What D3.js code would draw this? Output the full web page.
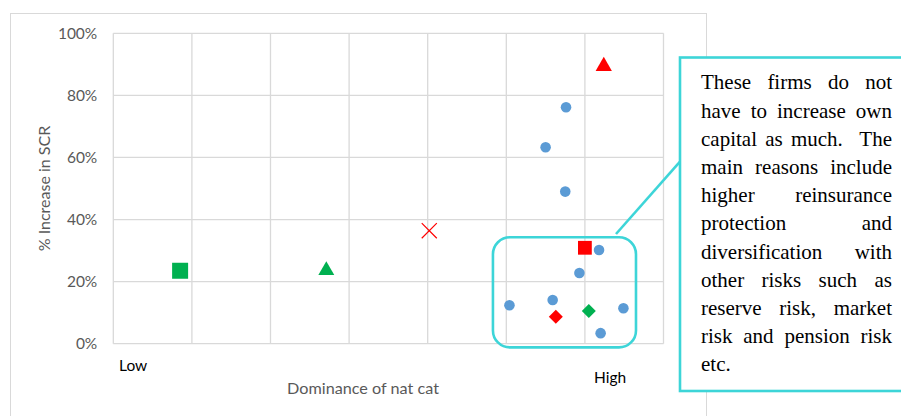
<!DOCTYPE html>
<html>
<head>
<meta charset="utf-8">
<script src="https://cdn.jsdelivr.net/npm/d3@7"></script>
<style>
  body { margin: 0; background: #fff; }
  svg { display: block; }
</style>
</head>
<body>
<div id="chart"></div>
<script>

// data (x = position on the "dominance" scale, y = % increase)
let blueX = [5.76, 5.50, 5.75, 6.18, 5.93, 5.04, 5.59, 6.49, 6.20];
let blueY = [0.762, 0.633, 0.490, 0.302, 0.228, 0.124, 0.141, 0.114, 0.034];

let redTriangle = {x: 6.24, y: 0.894};
let redSquare = {x: 6.00, y: 0.309};
let redDiamond = {x: 5.63, y: 0.087};
let redCross = {x: 4.02, y: 0.364};
let greenSquare = {x: 0.85, y: 0.235};
let greenTriangle = {x: 2.71, y: 0.236};
let greenDiamond = {x: 6.05, y: 0.105};

let yTicks = [0, 0.2, 0.4, 0.6, 0.8, 1.0];
let xGrid = [0, 1, 2, 3, 4, 5, 6, 7];

// highlighted region around the high nat cat firms (data units)
let highlight = {x0: 4.83, x1: 6.65, y0: -0.012, y1: 0.343};

let noteLines = [
	"These firms do not",
	"have to increase own",
	"capital as much.  The",
	"main reasons include",
	"higher reinsurance",
	"protection and",
	"diversification with",
	"other risks such as",
	"reserve risk, market",
	"risk and pension risk",
	"etc."
];

let width = 901, height = 416;
let margin = {top: 33.3, left: 113.3, right: 237.5, bottom: 72.3};
let teal = "#3dd5d8";
let axisFont = "Lato, sans-serif";

let svg = d3.select("#chart").append("svg")
	.attr("width", width)
	.attr("height", height);

svg.append("rect")
	.attr("width", width).attr("height", height)
	.attr("fill", "#fff");

// chart frame
svg.append("rect")
	.attr("x", 10.5).attr("y", 13.5)
	.attr("width", 696).attr("height", 420)
	.attr("fill", "none")
	.attr("stroke", "#d9d9d9");

let x = d3.scaleLinear().domain([0, 7]).range([margin.left, width - margin.right]);
let y = d3.scaleLinear().domain([0, 1]).range([height - margin.bottom, margin.top]);

// gridlines
svg.append("g").selectAll("line.v")
	.data(xGrid).enter().append("line")
	.attr("x1", d => x(d)).attr("x2", d => x(d))
	.attr("y1", y(1)).attr("y2", y(0))
	.attr("stroke", "#d9d9d9").attr("stroke-width", 1.3);

svg.append("g").selectAll("line.h")
	.data(yTicks).enter().append("line")
	.attr("x1", x(0)).attr("x2", x(7))
	.attr("y1", d => y(d)).attr("y2", d => y(d))
	.attr("stroke", "#d9d9d9").attr("stroke-width", 1.3);

// y axis labels
let yAxis = d3.axisLeft(y)
	.tickValues(yTicks)
	.tickFormat(d3.format(".0%"))
	.tickSize(0)
	.tickPadding(16);

let yg = svg.append("g")
	.attr("transform", "translate(" + margin.left + ",0)")
	.call(yAxis);
yg.select(".domain").remove();
yg.selectAll("text")
	.attr("font-family", axisFont)
	.attr("font-size", 15.5)
	.attr("fill", "#595959");

svg.append("text")
	.attr("transform", "translate(50," + (y(0.5)) + ") rotate(-90)")
	.attr("text-anchor", "middle")
	.attr("font-family", axisFont)
	.attr("font-size", 16)
	.attr("fill", "#595959")
	.text("% Increase in SCR");

svg.append("text")
	.attr("x", 119).attr("y", 371)
	.attr("font-family", axisFont)
	.attr("font-size", 15.5)
	.attr("fill", "#000")
	.text("Low");

svg.append("text")
	.attr("x", 594).attr("y", 383)
	.attr("font-family", axisFont)
	.attr("font-size", 15.5)
	.attr("fill", "#000")
	.text("High");

svg.append("text")
	.attr("x", 363).attr("y", 394)
	.attr("text-anchor", "middle")
	.attr("font-family", axisFont)
	.attr("font-size", 16.2)
	.attr("fill", "#595959")
	.text("Dominance of nat cat");

// markers
let plot = svg.append("g");

let blue = blueX.map((d, i) => ({x: d, y: blueY[i]}));
plot.selectAll("circle.blue")
	.data(blue).enter().append("circle")
	.attr("class", "blue")
	.attr("cx", d => x(d.x)).attr("cy", d => y(d.y))
	.attr("r", 5.3)
	.attr("fill", "#5b9bd5");

function symbol(p, type, size, color, angle) {
	plot.append("path")
		.attr("d", d3.symbol().type(type).size(size)())
		.attr("transform", "translate(" + x(p.x) + "," + y(p.y) + ") rotate(" + (angle || 0) + ")")
		.attr("fill", color);
}

symbol(greenSquare, d3.symbolSquare, 256, "#00b050");
symbol(redSquare, d3.symbolSquare, 190, "#ff0000");
symbol(greenTriangle, d3.symbolTriangle, 110, "#00b050");
symbol(redTriangle, d3.symbolTriangle, 115, "#ff0000");
symbol(redDiamond, d3.symbolSquare, 98, "#ff0000", 45);
symbol(greenDiamond, d3.symbolSquare, 98, "#00b050", 45);

plot.append("path")
	.attr("d", d3.symbol().type(d3.symbolX).size(150)())
	.attr("transform", "translate(" + x(redCross.x) + "," + y(redCross.y) + ")")
	.attr("fill", "none")
	.attr("stroke", "#ff0000")
	.attr("stroke-width", 1.2);

// highlight box
svg.append("rect")
	.attr("x", x(highlight.x0)).attr("y", y(highlight.y1))
	.attr("width", x(highlight.x1) - x(highlight.x0))
	.attr("height", y(highlight.y0) - y(highlight.y1))
	.attr("rx", 17).attr("ry", 17)
	.attr("fill", "none")
	.attr("stroke", teal)
	.attr("stroke-width", 2.6);

// callout
let box = {x: 680, y: 57.5, w: 240, h: 333.5};

svg.append("line")
	.attr("x1", 616).attr("y1", 234)
	.attr("x2", box.x).attr("y2", 161.7)
	.attr("stroke", teal).attr("stroke-width", 2.6);

svg.append("rect")
	.attr("x", box.x).attr("y", box.y)
	.attr("width", box.w).attr("height", box.h)
	.attr("fill", "#fff")
	.attr("stroke", teal)
	.attr("stroke-width", 2.6);

// justified note text (empty tokens keep the double space as an extra gap)
let textLeft = 701, textRight = 892, firstBase = 89.3, lineGap = 28.2;

noteLines.forEach(function(line, li) {
	let words = line.split(" ");
	let g = svg.append("g");
	let nodes = words.map(w => g.append("text")
		.attr("y", firstBase + li * lineGap)
		.attr("font-family", "'Liberation Serif', 'Times New Roman', serif")
		.attr("font-size", 21)
		.attr("fill", "#000")
		.text(w));
	let widths = nodes.map(n => n.node().getComputedTextLength());
	let total = d3.sum(widths);
	let last = li === noteLines.length - 1;
	let gap = (!last && words.length > 1) ? (textRight - textLeft - total) / (words.length - 1) : 5.25;
	let pos = textLeft;
	nodes.forEach(function(n, i) {
		n.attr("x", pos);
		pos += widths[i] + gap;
	});
});

</script>
</body>
</html>
